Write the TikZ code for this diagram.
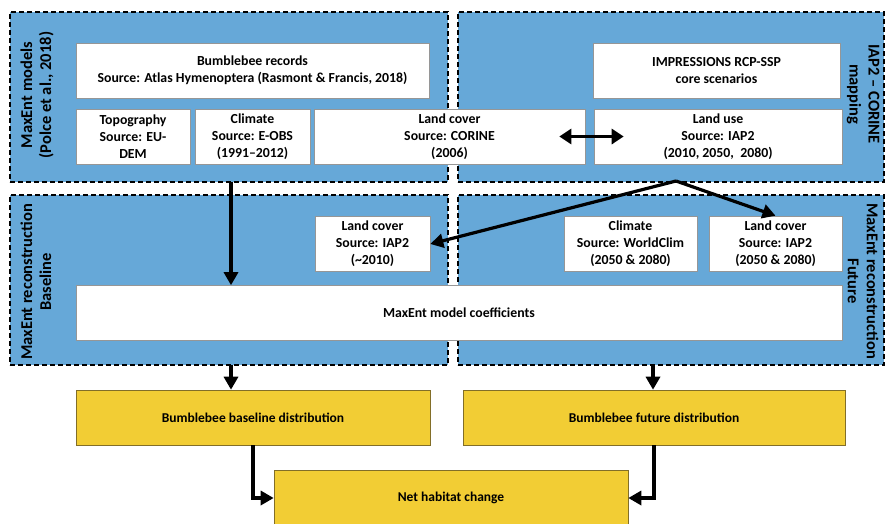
\documentclass[tikz,border=0pt]{standalone}
\usepackage{fontspec}
\setmainfont{Carlito}
\usetikzlibrary{arrows.meta,calc}
\definecolor{panelblue}{RGB}{102,168,216}
\definecolor{beeyellow}{RGB}{242,205,52}
\definecolor{boxgray}{RGB}{150,150,150}
\definecolor{beeedge}{RGB}{130,110,40}

\begin{document}
\begin{tikzpicture}[x=1pt,y=-1pt,->,>={Triangle[length=13pt,width=14pt]},line width=3.2pt,
    panel/.style={draw=black,fill=panelblue,line width=1.3pt,dash pattern=on 5pt off 3pt,minimum width=#1,minimum height=170pt,inner sep=0pt},
    src/.style={draw=boxgray,fill=white,line width=0.6pt,align=center,font=\bfseries\fontsize{13.8}{17}\selectfont,minimum width=#1,minimum height=55pt,inner sep=0pt},
    res/.style={draw=beeedge,fill=beeyellow,line width=0.6pt,font=\bfseries\fontsize{13.5}{15}\selectfont,minimum width=#1,minimum height=55pt,inner sep=0pt},
    lbl/.style={align=center,font=\bfseries\fontsize{16.5}{19}\selectfont}]
                \useasboundingbox (0,0) rectangle (885,523);
                % dashed panels
                \node[panel=438pt](tl)at(229, 97){};
                \node[panel=426pt](tr)at(671, 97){};
                \node[panel=438pt](bl)at(229, 280){};
                \node[panel=426pt](br)at(671, 280){};
                \node[lbl,rotate=90](tlLbl)at(37, 95){MaxEnt models\\(Polce et al., 2018)};
                \node[lbl,rotate=-90](trLbl)at(863, 94){IAP2 -- CORINE\\mapping};
                \node[lbl,rotate=90](blLbl)at(36, 282){MaxEnt reconstruction\\Baseline};
                \node[lbl,rotate=-90](brLbl)at(863, 281){MaxEnt reconstruction\\Future};
                % input data
                \node[src=353pt](rec)at(252.5, 70.5){Bumblebee records\\Source: Atlas Hymenoptera (Rasmont \& Francis, 2018)};
                \node[src=114pt](topo)at(133, 136.5){Topography\\Source: EU-\\DEM};
                \node[src=115pt](clim)at(252.5, 136.5){Climate\\Source: E-OBS\\(1991--2012)};
                \node[src=271pt](corine)at(449.5, 136.5){Land cover\\Source: CORINE\\(2006)};
                \node[src=247pt](impr)at(716.5, 70.5){IMPRESSIONS RCP-SSP\\core scenarios};
                \node[src=248pt](landuse)at(718, 136.5){Land use\\Source: IAP2\\(2010, 2050,~ 2080)};
                \node[src=115pt](lcBase)at(372.5, 244){Land cover\\Source: IAP2\\(\textasciitilde2010)};
                \node[src=133pt](wclim)at(630.5, 243.5){Climate\\Source: WorldClim\\(2050 \& 2080)};
                \node[src=133pt](lcFut)at(775.5, 243.5){Land cover\\Source: IAP2\\(2050 \& 2080)};
                \node[src=766pt](coef)at(459, 313){MaxEnt model coefficients};
                % outputs
                \node[res=354pt](base)at(253, 417.5){Bumblebee baseline distribution};
                \node[res=382pt](fut)at(654, 417.5){Bumblebee future distribution};
                \node[res=354pt,minimum height=56pt](net)at(451, 498){Net habitat change};
                \coordinate(s1)at(231, 182);
                \coordinate(fk)at(676, 181);
                \coordinate(s2)at(231, 365);
                \coordinate(s3)at(653, 365);
                \path[](s1) edge (s1 |- coef.north)
                (fk) edge (lcBase.east)
                (fk) edge (lcFut.north)
                (s2) edge (s2 |- base.north)
                (s3) edge (s3 |- fut.north);
                \path[<->,>={Triangle[length=12pt,width=15pt]},line width=3.4pt]($(corine.east)+(-26,0)$) edge ($(landuse.west)+(30,0)$);
                \draw(base.south) |- (net.west);
                \draw(fut.south) |- (net.east);
            \end{tikzpicture}
\end{document}
